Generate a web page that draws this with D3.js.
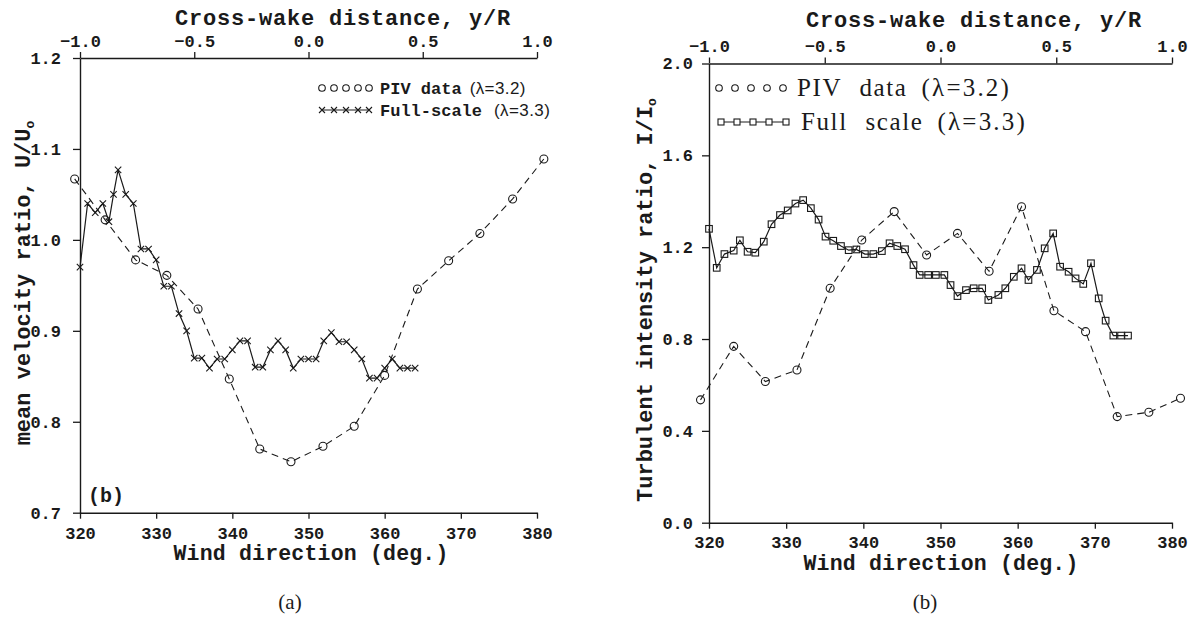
<!DOCTYPE html>
<html><head><meta charset="utf-8">
<script src="https://cdn.jsdelivr.net/npm/d3@7"></script>
<style>body{margin:0;background:#fff;} svg{display:block}</style>
</head><body><svg id="c" width="1195" height="618"></svg>
<script>
// ---------- data ----------
const windTicks = [320, 330, 340, 350, 360, 370, 380];
const crossTicks = [-1.0, -0.5, 0.0, 0.5, 1.0];
const velTicks = [0.7, 0.8, 0.9, 1.0, 1.1, 1.2];
const turbTicks = [0.0, 0.4, 0.8, 1.2, 1.6, 2.0];

// (a) mean velocity ratio
const velPivDir = [319.3, 323.3, 327.3, 331.4, 335.5, 339.6, 343.6, 347.7, 351.9, 356.0, 360.0, 364.3, 368.4, 372.5, 376.8, 380.9];
const velPivVal = [1.067, 1.022, 0.978, 0.961, 0.924, 0.847, 0.770, 0.756, 0.773, 0.795, 0.851, 0.946, 0.977, 1.007, 1.045, 1.089];
const velFullDir = [320, 321, 322, 323, 323.8, 324.4, 325, 326, 327, 328, 329, 330, 331, 332, 333, 334, 335, 336, 337, 338, 339, 340, 341, 342, 343, 344, 345, 346, 347, 348, 349, 350, 351, 352, 353, 354, 355, 356, 357, 358, 359, 360, 361, 362, 363, 364];
const velFullVal = [0.97, 1.04, 1.03, 1.04, 1.02, 1.05, 1.077, 1.05, 1.04, 0.99, 0.99, 0.978, 0.949, 0.949, 0.919, 0.90, 0.87, 0.87, 0.859, 0.869, 0.869, 0.879, 0.889, 0.889, 0.86, 0.86, 0.879, 0.889, 0.879, 0.859, 0.869, 0.869, 0.869, 0.889, 0.898, 0.888, 0.888, 0.879, 0.869, 0.848, 0.848, 0.859, 0.869, 0.859, 0.859, 0.859];

// (b) turbulent intensity ratio
const turbPivDir = [318.9, 323.2, 327.3, 331.4, 335.7, 339.8, 344.0, 348.2, 352.2, 356.3, 360.5, 364.7, 368.8, 372.9, 377.0, 381.1];
const turbPivVal = [0.535, 0.768, 0.615, 0.665, 1.021, 1.231, 1.355, 1.166, 1.26, 1.095, 1.376, 0.923, 0.832, 0.462, 0.481, 0.542];
const turbFullDir = [320, 321, 322, 323.2, 324, 325, 326, 327.1, 328.1, 329.2, 330.2, 331.2, 332.2, 333.2, 334.2, 335.1, 336.1, 337.1, 338.1, 339.1, 340.2, 341.3, 342.4, 343.4, 344.4, 345.4, 346.5, 347.3, 348.4, 349.4, 350.5, 351.3, 352.2, 353.3, 354.3, 355.4, 356.2, 357.5, 358.4, 359.5, 360.5, 361.4, 362.5, 363.5, 364.6, 365.5, 366.6, 367.5, 368.5, 369.5, 370.5, 371.4, 372.4, 373.4, 374.3];
const turbFullVal = [1.28, 1.11, 1.17, 1.185, 1.23, 1.18, 1.176, 1.224, 1.30, 1.34, 1.36, 1.39, 1.405, 1.37, 1.32, 1.246, 1.228, 1.205, 1.187, 1.19, 1.17, 1.17, 1.183, 1.217, 1.205, 1.191, 1.122, 1.079, 1.079, 1.079, 1.079, 1.035, 0.987, 1.013, 1.021, 1.021, 0.970, 0.992, 1.021, 1.071, 1.108, 1.057, 1.101, 1.195, 1.26, 1.115, 1.093, 1.064, 1.040, 1.130, 0.977, 0.88, 0.815, 0.815, 0.815];

// ---------- drawing ----------
const svg = d3.select('#c');
svg.append('rect').attr('width', 1195).attr('height', 618).attr('fill', '#fff');
const INK = '#1a1a1a';
const MONO = '"Liberation Mono", "DejaVu Sans Mono", monospace';
const SERIF = '"Liberation Serif", "Times New Roman", serif';
const SANS = '"Liberation Sans", Arial, sans-serif';
const f1 = d3.format('.1f');

function zip(a, b) { return a.map((v, i) => [v, b[i]]); }

function styleAxis(g, size) {
  g.select('.domain').attr('stroke', INK).attr('stroke-width', 1.4);
  g.selectAll('.tick line').attr('stroke', INK).attr('stroke-width', 1.3);
  g.selectAll('.tick text').attr('fill', INK).attr('font-family', MONO)
    .attr('font-weight', 'bold').attr('font-size', size);
}

function panel(cfg) {
  const x = d3.scaleLinear().domain([320, 380]).range([cfg.x0, cfg.x1]);
  const xt = d3.scaleLinear().domain([-1, 1]).range([cfg.x0, cfg.x1]);
  const y = d3.scaleLinear().domain(cfg.yDomain).range([cfg.y0, cfg.y1]);

  const gb = svg.append('g').attr('transform', `translate(0,${cfg.y0})`)
    .call(d3.axisBottom(x).tickValues(windTicks).tickFormat(d3.format('d')).tickSize(6).tickSizeOuter(0).tickPadding(cfg.bPad));
  styleAxis(gb, 17);
  const gt = svg.append('g').attr('transform', `translate(0,${cfg.y1})`)
    .call(d3.axisTop(xt).tickValues(crossTicks).tickFormat(f1).tickSize(6).tickSizeOuter(0).tickPadding(cfg.tPad));
  styleAxis(gt, 17);
  const gl = svg.append('g').attr('transform', `translate(${cfg.x0},0)`)
    .call(d3.axisLeft(y).tickValues(cfg.yTicks).tickFormat(f1).tickSize(7).tickSizeOuter(0).tickPadding(cfg.lPad));
  styleAxis(gl, 17);

  // series
  const line = d3.line().x(d => x(d[0])).y(d => y(d[1]));
  const piv = zip(cfg.pivDir, cfg.pivVal);
  const full = zip(cfg.fullDir, cfg.fullVal);
  svg.append('path').datum(piv).attr('d', line).attr('fill', 'none')
    .attr('stroke', INK).attr('stroke-width', 1.1).attr('stroke-dasharray', '7,5');
  svg.append('path').datum(full).attr('d', line).attr('fill', 'none')
    .attr('stroke', INK).attr('stroke-width', 1.2);

  svg.append('g').selectAll('circle').data(piv).join('circle')
    .attr('cx', d => x(d[0])).attr('cy', d => y(d[1])).attr('r', 4)
    .attr('fill', 'none').attr('stroke', INK).attr('stroke-width', 1.1);
  if (cfg.fullMarker === 'x') {
    svg.append('g').selectAll('path').data(full).join('path')
      .attr('transform', d => `translate(${x(d[0])},${y(d[1])})`)
      .attr('d', 'M-3.2,-3.2L3.2,3.2M-3.2,3.2L3.2,-3.2').attr('stroke', INK).attr('stroke-width', 1.1);
  } else {
    svg.append('g').selectAll('rect').data(full).join('rect')
      .attr('x', d => x(d[0]) - 3.3).attr('y', d => y(d[1]) - 3.3)
      .attr('width', 6.6).attr('height', 6.6)
      .attr('fill', 'none').attr('stroke', INK).attr('stroke-width', 1.1);
  }

  // titles
  svg.append('text').attr('x', cfg.topTitle[0]).attr('y', cfg.topTitle[1])
    .attr('text-anchor', 'middle').attr('font-family', MONO).attr('font-weight', 'bold')
    .attr('font-size', 22).attr('letter-spacing', 0.8).attr('fill', INK)
    .text('Cross-wake distance, y/R');
  svg.append('text').attr('x', cfg.botTitle[0]).attr('y', cfg.botTitle[1])
    .attr('text-anchor', 'middle').attr('font-family', MONO).attr('font-weight', 'bold')
    .attr('font-size', 21.5).attr('letter-spacing', 0.2).attr('fill', INK)
    .text('Wind direction (deg.)');
  const yl = svg.append('text')
    .attr('transform', `translate(${cfg.yTitle[0]},${cfg.yTitle[1]}) rotate(-90)`)
    .attr('text-anchor', 'middle').attr('font-family', MONO).attr('font-weight', 'bold')
    .attr('font-size', 22).attr('fill', INK);
  yl.append('tspan').text(cfg.yLabel);
  yl.append('tspan').attr('font-size', 13).attr('dy', 4).text('o');

  svg.append('text').attr('x', cfg.caption[0]).attr('y', cfg.caption[1])
    .attr('text-anchor', 'middle').attr('font-family', SERIF).attr('font-size', 21)
    .attr('fill', INK).text(cfg.captionText);
  return { x, y };
}

// Panel (a)
panel({
  x0: 80, x1: 537, y0: 512.7, y1: 58, yDomain: [0.7, 1.2], yTicks: velTicks,
  bPad: 8, tPad: 5, lPad: 12,
  pivDir: velPivDir, pivVal: velPivVal, fullDir: velFullDir, fullVal: velFullVal, fullMarker: 'x',
  topTitle: [343, 25], botTitle: [311, 560], yTitle: [30, 283],
  yLabel: 'mean velocity ratio, U/U', caption: [290, 609], captionText: '(a)'
});
// Panel (b)
panel({
  x0: 709, x1: 1172, y0: 522.7, y1: 63.5, yDomain: [0, 2], yTicks: turbTicks,
  bPad: 7, tPad: 6, lPad: 9,
  pivDir: turbPivDir, pivVal: turbPivVal, fullDir: turbFullDir, fullVal: turbFullVal, fullMarker: 'sq',
  topTitle: [974, 27], botTitle: [941, 570], yTitle: [652, 300],
  yLabel: 'Turbulent intensity ratio, I/I', caption: [925, 609], captionText: '(b)'
});

// in-plot label (b) of panel (a)
svg.append('text').attr('x', 88).attr('y', 502).attr('font-family', MONO)
  .attr('font-weight', 'bold').attr('font-size', 20).attr('fill', INK).text('(b)');

// Legends
function legendRow(o) {
  const g = svg.append('g');
  const xs = o.xs, yy = o.y;
  if (o.marker === 'o') {
    xs.forEach(v => g.append('circle').attr('cx', v).attr('cy', yy).attr('r', 3.3)
      .attr('fill', 'none').attr('stroke', INK).attr('stroke-width', 1.1));
  } else if (o.marker === 'x') {
    g.append('line').attr('x1', xs[0]).attr('x2', xs[xs.length - 1]).attr('y1', yy).attr('y2', yy).attr('stroke', INK).attr('stroke-width', 1);
    xs.forEach(v => g.append('path').attr('transform', `translate(${v},${yy})`)
      .attr('d', 'M-3,-3L3,3M-3,3L3,-3').attr('stroke', INK).attr('stroke-width', 1.1));
  } else {
    g.append('line').attr('x1', xs[0]).attr('x2', xs[xs.length - 1]).attr('y1', yy).attr('y2', yy).attr('stroke', INK).attr('stroke-width', 1);
    xs.forEach(v => g.append('rect').attr('x', v - 3).attr('y', yy - 3).attr('width', 6).attr('height', 6)
      .attr('fill', '#fff').attr('stroke', INK).attr('stroke-width', 1.1));
  }
  const t = g.append('text').attr('x', o.tx).attr('y', yy + o.dy).attr('fill', INK).attr('font-size', o.size);
  t.append('tspan').attr('font-family', o.fontLab).attr('font-weight', o.bold ? 'bold' : 'normal')
    .attr('letter-spacing', o.ls).attr('word-spacing', o.ws).text(o.label);
  t.append('tspan').attr('font-family', o.fontPar).attr('dx', o.gap)
    .attr('letter-spacing', o.pls).text(o.paren);
}
const legA1 = [322, 334, 346, 358, 369];
legendRow({xs: legA1, y: 88, marker: 'o', tx: 380, dy: 6, label: 'PIV data', paren: '(λ=3.2)', fontLab: MONO, fontPar: SANS, size: 17, bold: true, ls: 0, ws: 0, gap: 8, pls: 0.4});
legendRow({xs: legA1, y: 110, marker: 'x', tx: 380, dy: 6, label: 'Full-scale', paren: '(λ=3.3)', fontLab: MONO, fontPar: SANS, size: 17, bold: true, ls: 0, ws: 0, gap: 12, pls: 0.4});
const legB1 = [719, 735, 751, 767, 783];
legendRow({xs: legB1, y: 88, marker: 'o', tx: 797, dy: 8, label: 'PIV data', paren: '(λ=3.2)', fontLab: SERIF, fontPar: SERIF, size: 25, bold: false, ls: 1.6, ws: 10, gap: 14, pls: 2.2});
const legB2 = [721, 737, 753, 769, 786];
legendRow({xs: legB2, y: 122, marker: 's', tx: 801, dy: 8, label: 'Full scale', paren: '(λ=3.3)', fontLab: SERIF, fontPar: SERIF, size: 25, bold: false, ls: 1.6, ws: 10, gap: 14, pls: 2.2});
</script></body></html>
